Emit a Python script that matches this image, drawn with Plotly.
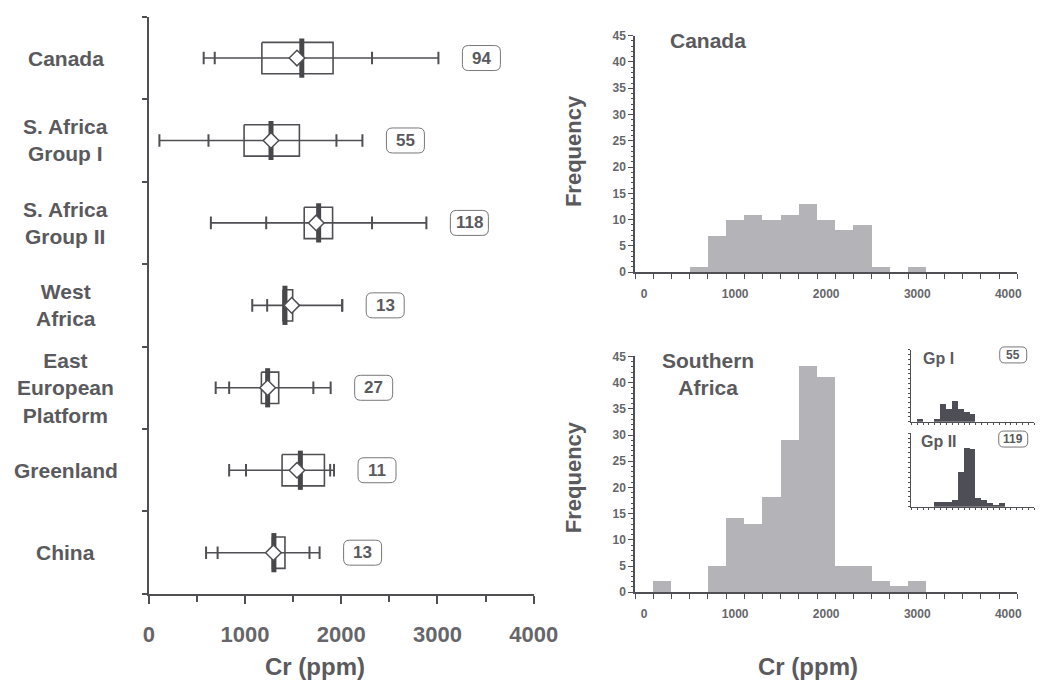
import plotly.graph_objects as go

# ---- Box-plot summary of Cr (ppm) by region ----
regions = ["Canada", "S. Africa<br>Group I", "S. Africa<br>Group II", "West<br>Africa",
           "East<br>European<br>Platform", "Greenland", "China"]
n_samples = [94, 55, 118, 13, 27, 11, 13]
cr_min = [570, 110, 645, 1075, 695, 835, 595]
cr_p10 = [685, 620, 1220, 1230, 835, 1010, 715]
cr_q1 = [1175, 990, 1615, 1395, 1170, 1385, 1285]
cr_median = [1590, 1270, 1765, 1415, 1235, 1575, 1300]
cr_mean = [1540, 1270, 1740, 1485, 1235, 1540, 1295]
cr_q3 = [1915, 1565, 1910, 1495, 1350, 1825, 1415]
cr_p90 = [2320, 1950, 2320, 2010, 1710, 1885, 1670]
cr_max = [3010, 2220, 2885, 2010, 1890, 1925, 1775]

# ---- Histograms (200 ppm bins) ----
bin_centers = [0, 200, 400, 600, 800, 1000, 1200, 1400, 1600, 1800, 2000,
               2200, 2400, 2600, 2800, 3000, 3200, 3400, 3600, 3800, 4000]
canada_counts = [0, 0, 0, 1, 7, 10, 11, 10, 11, 13, 10, 8, 9, 1, 0, 1, 0, 0, 0, 0, 0]
southern_counts = [0, 2, 0, 0, 5, 14, 13, 18, 29, 43, 41, 5, 5, 2, 1, 2, 0, 0, 0, 0, 0]
gp1_counts = [0, 2, 0, 0, 2, 11, 8, 13, 8, 6, 5, 0, 0, 0, 0, 0, 0, 0, 0, 0, 0]
gp2_counts = [0, 0, 0, 0, 3, 3, 3, 4, 21, 36, 35, 5, 4, 2, 1, 2, 0, 0, 0, 0, 0]
gp1_n, gp2_n = 55, 119

FONT = "Liberation Sans, Arial, sans-serif"
INK = "#4f4f54"
TEXT = "#5a5a5e"
TICKTXT = "#66666a"
BAR = "#b3b3b8"
BAR_DARK = "#4e4e56"
bin_w = bin_centers[1] - bin_centers[0]
bin_edges = [c - bin_w / 2 for c in bin_centers] + [bin_centers[-1] + bin_w / 2]

fig = go.Figure()

# whiskers (min to max)
idx = list(range(len(regions)))
wx, wy = [], []
for i in idx:
    wx += [cr_min[i], cr_max[i], None]
    wy += [i, i, None]
fig.add_trace(go.Scatter(x=wx, y=wy, mode="lines", line=dict(color=INK, width=1.6),
                         hoverinfo="skip"))

# interquartile boxes
h = 0.19
bx, by = [], []
for i in idx:
    bx += [cr_q1[i], cr_q3[i], cr_q3[i], cr_q1[i], cr_q1[i], None]
    by += [i - h, i - h, i + h, i + h, i - h, None]
fig.add_trace(go.Scatter(x=bx, y=by, mode="lines", line=dict(color=INK, width=1.6),
                         hoverinfo="skip"))

# end caps and 10th / 90th percentile ticks
cx, cy = [], []
for i in idx:
    cx += [cr_min[i], cr_p10[i], cr_p90[i], cr_max[i]]
    cy += [i, i, i, i]
fig.add_trace(go.Scatter(x=cx, y=cy, mode="markers",
                         marker=dict(symbol="line-ns", size=9, color=INK,
                                     line=dict(color=INK, width=2))))

# medians
fig.add_trace(go.Scatter(x=cr_median, y=idx, mode="markers",
                         marker=dict(symbol="line-ns", size=28, color="#47474b",
                                     line=dict(color="#47474b", width=5))))

# means
fig.add_trace(go.Scatter(x=cr_mean, y=idx, mode="markers",
                         marker=dict(symbol="diamond", size=12, color="white",
                                     line=dict(color=INK, width=1.5))))


def rounded_box(xref, yref, xa, ya, dx, w, hgt, r):
    l, rt = dx - w / 2, dx + w / 2
    b, t = -hgt / 2, hgt / 2
    path = (f"M{l + r},{t} L{rt - r},{t} Q{rt},{t} {rt},{t - r} L{rt},{b + r} "
            f"Q{rt},{b} {rt - r},{b} L{l + r},{b} Q{l},{b} {l},{b + r} "
            f"L{l},{t - r} Q{l},{t} {l + r},{t} Z")
    return dict(type="path", xref=xref, yref=yref, xsizemode="pixel", ysizemode="pixel",
                xanchor=xa, yanchor=ya, path=path, line=dict(color="#77777b", width=1))


def label(x, y, xref, yref, text, size, **kw):
    return dict(x=x, y=y, xref=xref, yref=yref, text=text, showarrow=False,
                xanchor="center", yanchor="middle", align="center",
                font=dict(family=FONT, size=size, color=TEXT, weight="bold"), **kw)


shapes = []
annotations = []
for i in idx:
    shapes.append(rounded_box("x", "y", cr_max[i], i, 43, 38, 25, 6))
    annotations.append(label(cr_max[i], i, "x", "y", str(n_samples[i]), 17, xshift=43))
    annotations.append(label(0, i, "x domain", "y", regions[i], 21, xshift=-83))

# histograms
fig.add_trace(go.Bar(x=bin_centers, y=canada_counts, width=bin_w, xaxis="x2", yaxis="y2",
                     marker=dict(color=BAR, line=dict(width=0))))
fig.add_trace(go.Bar(x=bin_centers, y=southern_counts, width=bin_w, xaxis="x3", yaxis="y3",
                     marker=dict(color=BAR, line=dict(width=0))))
fig.add_trace(go.Bar(x=bin_centers, y=gp1_counts, width=bin_w, xaxis="x4", yaxis="y4",
                     marker=dict(color=BAR_DARK, line=dict(width=0))))
fig.add_trace(go.Bar(x=bin_centers, y=gp2_counts, width=bin_w, xaxis="x5", yaxis="y5",
                     marker=dict(color=BAR_DARK, line=dict(width=0))))

# panel texts
annotations += [
    label(0.192, 0.98, "x2 domain", "y2 domain", "Canada", 21),
    label(0.192, 0.925, "x3 domain", "y3 domain", "Southern<br>Africa", 21),
    label(0, 0.512, "x2 domain", "y2 domain", "Frequency", 22, xshift=-62, textangle=-90),
    label(0, 0.488, "x3 domain", "y3 domain", "Frequency", 22, xshift=-62, textangle=-90),
    label(0.299, 0.026, "paper", "paper", "Cr (ppm)", 24),
    label(0.777, 0.026, "paper", "paper", "Cr (ppm)", 24),
    label(0.224, 0.877, "x4 domain", "y4 domain", "Gp I", 16),
    label(0.224, 0.88, "x5 domain", "y5 domain", "Gp II", 16),
    label(0.828, 0.93, "x4 domain", "y4 domain", str(gp1_n), 12),
    label(0.828, 0.92, "x5 domain", "y5 domain", str(gp2_n), 12),
]
shapes.append(rounded_box("x4 domain", "y4 domain", 0.828, 0.93, 0, 27, 16, 5))
shapes.append(rounded_box("x5 domain", "y5 domain", 0.828, 0.92, 0, 29, 16, 5))

axis_common = dict(showline=True, linecolor=INK, linewidth=1.5, showgrid=False,
                   zeroline=False, tickcolor=INK, fixedrange=True)

hist_x = dict(axis_common, range=[bin_edges[0], bin_edges[-1]],
              tickmode="array", tickvals=[0, 1000, 2000, 3000, 4000], ticks="",
              ticklabelstandoff=10,
              tickfont=dict(family=FONT, size=12, color=TICKTXT, weight="bold"),
              minor=dict(tickmode="array", tickvals=bin_edges, ticks="outside",
                         ticklen=5, tickcolor=INK, tickwidth=1.2))
hist_y = dict(axis_common, range=[0, 45], dtick=5, ticks="outside", ticklen=5,
              tickwidth=1.2,
              tickfont=dict(family=FONT, size=12, color=TICKTXT, weight="bold"),
              minor=dict(dtick=1, ticks="outside", ticklen=2.5, tickcolor=INK))
inset_x = dict(axis_common, linewidth=1, range=[bin_edges[0], bin_edges[-1]],
               showticklabels=False, tickmode="array", tickvals=bin_edges,
               ticks="outside", ticklen=2, tickwidth=1)
inset_y = dict(axis_common, linewidth=1, range=[0, 45], showticklabels=False,
               dtick=3, ticks="outside", ticklen=2, tickwidth=1)

fig.update_layout(
    width=1062, height=691, margin=dict(l=0, r=0, t=0, b=0),
    paper_bgcolor="white", plot_bgcolor="white", showlegend=False, bargap=0,
    font=dict(family=FONT, color=TEXT),
    xaxis=dict(axis_common, domain=[0.1384, 0.5113], range=[0, 4000], dtick=1000,
               ticks="outside", ticklen=8, tickwidth=1.5, ticklabelstandoff=12,
               tickfont=dict(family=FONT, size=22, color=TICKTXT, weight="bold"),
               minor=dict(dtick=500, ticks="outside", ticklen=6, tickcolor=INK,
                          tickwidth=1.5)),
    yaxis=dict(axis_common, domain=[0.1331, 0.9855], range=[6.5, -0.5],
               tickmode="array", tickvals=[i - 0.5 for i in idx] + [idx[-1] + 0.5],
               ticks="outside", ticklen=5, tickwidth=1.5, showticklabels=False),
    xaxis2=dict(hist_x, domain=[0.6095, 0.9800], anchor="y2"),
    yaxis2=dict(hist_y, domain=[0.6083, 0.9576], anchor="x2"),
    xaxis3=dict(hist_x, domain=[0.6095, 0.9800], anchor="y3"),
    yaxis3=dict(hist_y, domain=[0.1356, 0.4838], anchor="x3"),
    xaxis4=dict(inset_x, domain=[0.8773, 0.9965], anchor="y4"),
    yaxis4=dict(inset_y, domain=[0.3874, 0.4935], anchor="x4"),
    xaxis5=dict(inset_x, domain=[0.8773, 0.9965], anchor="y5"),
    yaxis5=dict(inset_y, domain=[0.2619, 0.3705], anchor="x5"),
    shapes=shapes, annotations=annotations,
)

fig.write_html("out.html")
